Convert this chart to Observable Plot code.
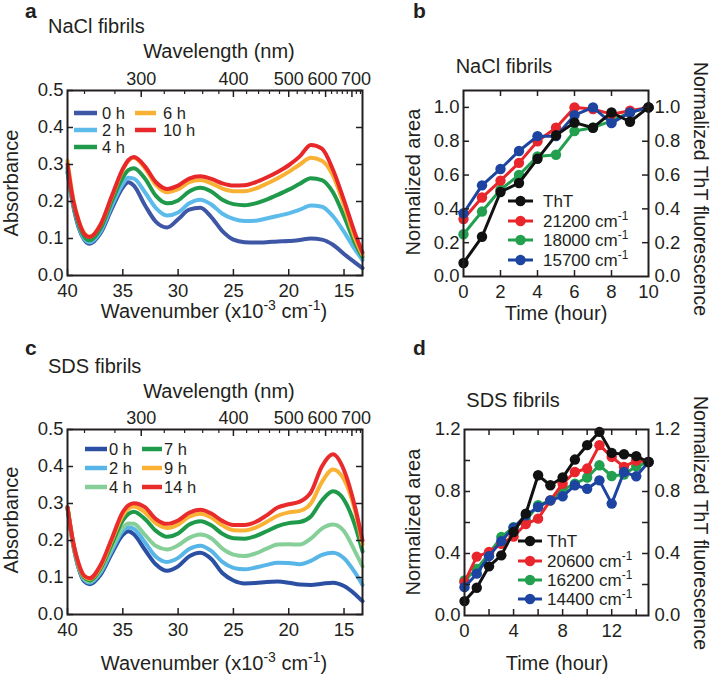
<!DOCTYPE html>
<html><head><meta charset="utf-8">
<script src="https://cdn.jsdelivr.net/npm/d3@7"></script>
<script src="https://cdn.jsdelivr.net/npm/@observablehq/plot@0.6"></script>
<style>
body{margin:0;background:#fff}
#wrap{position:relative;width:712px;height:677px;overflow:hidden;background:#fff}
#wrap svg{position:absolute;overflow:visible}
</style></head><body><div id="wrap"></div>
<script>
const FONT = '"Liberation Sans", Arial, Helvetica, sans-serif';
const INK = "#231f20";

// ---------- Panels a & c : absorbance spectra ----------
const wavenumbers = [40,39.5,39,38.5,38,37,36,35,34.5,34,33,32,31,30,29,28,27,26,25,24,23,22,21,20,19,18,17,16,15,14,13.33];

const naclLabels = ["0 h","2 h","4 h","6 h","10 h"];
const naclColors = ["#3d56a6","#5cbbea","#1f9a4a","#f8b133","#e8272a"];
const nacl_0h  = [0.28,0.19,0.13,0.097,0.086,0.115,0.18,0.238,0.252,0.243,0.19,0.145,0.13,0.152,0.178,0.183,0.158,0.12,0.097,0.09,0.089,0.09,0.092,0.093,0.096,0.1,0.097,0.083,0.058,0.035,0.02];
const nacl_2h  = [0.28,0.195,0.135,0.1,0.09,0.12,0.188,0.248,0.264,0.262,0.225,0.182,0.162,0.17,0.195,0.205,0.192,0.167,0.153,0.147,0.148,0.154,0.161,0.168,0.178,0.189,0.186,0.16,0.118,0.07,0.042];
const nacl_4h  = [0.29,0.2,0.14,0.106,0.095,0.128,0.2,0.265,0.285,0.29,0.262,0.215,0.195,0.203,0.227,0.237,0.227,0.205,0.193,0.19,0.195,0.205,0.218,0.232,0.248,0.263,0.258,0.225,0.16,0.087,0.05];
const nacl_6h  = [0.31,0.21,0.15,0.115,0.105,0.138,0.212,0.285,0.31,0.318,0.29,0.245,0.225,0.233,0.252,0.258,0.249,0.235,0.228,0.228,0.235,0.248,0.263,0.28,0.3,0.318,0.31,0.27,0.19,0.1,0.056];
const nacl_10h = [0.30,0.205,0.148,0.113,0.104,0.138,0.214,0.288,0.312,0.32,0.295,0.252,0.234,0.243,0.262,0.268,0.261,0.249,0.243,0.244,0.252,0.265,0.28,0.298,0.322,0.353,0.343,0.286,0.203,0.113,0.062];

const sdsLabels = ["0 h","2 h","4 h","7 h","9 h","14 h"];
const sdsColors = ["#2b4fa3","#57b5e7","#86cf98","#1f9a4b","#f9b233","#ea2b2b"];
const sds_0h  = [0.288,0.19,0.125,0.09,0.082,0.108,0.165,0.215,0.225,0.217,0.175,0.135,0.118,0.13,0.157,0.167,0.15,0.112,0.092,0.084,0.085,0.088,0.089,0.086,0.081,0.08,0.083,0.086,0.077,0.055,0.036];
const sds_2h  = [0.288,0.19,0.128,0.094,0.086,0.114,0.172,0.226,0.236,0.232,0.195,0.156,0.142,0.153,0.177,0.186,0.172,0.142,0.126,0.122,0.127,0.134,0.14,0.139,0.136,0.145,0.161,0.167,0.152,0.113,0.08];
const sds_4h  = [0.288,0.192,0.13,0.097,0.089,0.12,0.18,0.235,0.246,0.245,0.215,0.185,0.176,0.187,0.207,0.216,0.206,0.178,0.162,0.158,0.165,0.178,0.189,0.19,0.189,0.205,0.232,0.243,0.225,0.17,0.13];
const sds_7h  = [0.29,0.195,0.133,0.1,0.092,0.125,0.19,0.254,0.272,0.278,0.258,0.226,0.21,0.219,0.243,0.252,0.241,0.218,0.206,0.205,0.212,0.225,0.239,0.247,0.25,0.265,0.308,0.333,0.31,0.24,0.17];
const sds_9h  = [0.29,0.197,0.136,0.103,0.096,0.13,0.2,0.268,0.286,0.292,0.276,0.246,0.234,0.243,0.264,0.272,0.262,0.241,0.228,0.227,0.235,0.25,0.267,0.276,0.28,0.3,0.358,0.392,0.365,0.28,0.19];
const sds_14h = [0.29,0.198,0.138,0.105,0.098,0.134,0.205,0.277,0.295,0.301,0.29,0.258,0.245,0.254,0.275,0.283,0.273,0.253,0.242,0.242,0.25,0.268,0.289,0.298,0.305,0.33,0.4,0.433,0.39,0.29,0.2];

const wnTicks = [40,35,30,25,20,15];
const absTicks = [0,0.1,0.2,0.3,0.4,0.5];
const wlMajor = [300,400,500,600,700];
const wlMinor = [260,280,320,340,360,380,420,440,460,480,520,540,560,580,620,640,660,680,720,740];

// ---------- Panels b & d : kinetics ----------
const naclHours = [0,1,2,3,4,5,6,7,8,9,10];
const naclSeriesNames = ["ThT","21200","18000","15700"];
const naclThT   = [0.08,0.235,0.50,0.553,0.696,0.835,0.91,0.88,0.97,0.915,1.0];
const nacl21200 = [0.34,0.467,0.567,0.672,0.80,0.88,1.0,0.99,0.96,0.98,1.0];
const nacl18000 = [0.25,0.384,0.513,0.60,0.71,0.72,0.86,0.88,0.92,0.97,1.0];
const nacl15700 = [0.374,0.539,0.636,0.742,0.83,0.83,0.954,1.0,0.907,0.97,1.0];

const sdsHours = [0,1,2,3,4,5,6,7,8,9,10,11,12,13,14,15];
const sdsSeriesNames = ["ThT","20600","16200","14400"];
const sdsThT   = [0.093,0.179,0.317,0.388,0.539,0.657,0.905,0.84,0.89,1.006,1.099,1.185,1.049,1.04,1.028,0.99];
const sds20600 = [0.215,0.38,0.41,0.463,0.51,0.59,0.625,0.743,0.85,0.926,0.948,1.099,1.023,0.959,1.0,0.99];
const sds16200 = [0.226,0.30,0.40,0.506,0.57,0.614,0.711,0.743,0.81,0.85,0.89,0.969,0.90,0.91,0.963,0.99];
const sds14400 = [0.183,0.27,0.383,0.48,0.567,0.646,0.70,0.743,0.769,0.84,0.818,0.872,0.722,0.926,0.898,0.99];

const kinColors = {ThT:"#111111", r:"#e8262b", g:"#22a04f", b:"#1c44a0"};

const naclTimeTicks = [0,2,4,6,8,10];
const naclAreaTicks = [0,0.2,0.4,0.6,0.8,1.0];
const sdsTimeTicks = [0,4,8,12];
const sdsTimeTickMarks = [2,4,6,8,10,12,14];
const sdsAreaTicks = [0,0.4,0.8,1.2];
const sdsAreaTickMarks = [0.2,0.4,0.6,0.8,1.0];

const wrap = document.getElementById("wrap");
function place(svg, left, top) {
  svg.style.left = left + "px";
  svg.style.top = top + "px";
  wrap.appendChild(svg);
}
const baseStyle = {fontFamily: FONT, fontSize: "18.5px", color: INK, background: "transparent", overflow: "visible"};

function spectrum(labels, colors, values, height, mT, mB) {
  const width = 370, mL = 67, mR = 8;
  const fw = width - mL - mR, fh = height - mT - mB;
  const rows = labels.flatMap((s, i) => wavenumbers.map((w, j) => ({series: s, wn: w, a: values[i][j]})));
  const topAxis = (vals, dx) => Plot.axisX(vals.map(d => 1e4 / d), {anchor: "top", tickSize: 0, tickPadding: 6, dx,
    tickFormat: d => String(Math.round(1e4 / d)), label: null, fill: INK, fontSize: 18});
  return Plot.plot({
    width, height, marginLeft: mL, marginRight: mR, marginTop: mT, marginBottom: mB,
    style: baseStyle,
    x: {domain: [40, 13.33]},
    y: {domain: [0, 0.5]},
    color: {domain: labels, range: colors},
    marks: [
      Plot.line(rows, {x: "wn", y: "a", z: "series", stroke: "series", strokeWidth: 4, curve: "monotone-x"}),
      Plot.tickX(wnTicks, {x: d => d, insetTop: fh - 6, stroke: INK, strokeWidth: 1.5}),
      Plot.tickX(wlMajor, {x: d => 1e4 / d, insetBottom: fh - 7, stroke: INK, strokeWidth: 1.5}),
      Plot.tickX(wlMinor, {x: d => 1e4 / d, insetBottom: fh - 4, stroke: INK, strokeWidth: 1.2}),
      Plot.tickY(absTicks, {y: d => d, insetRight: fw - 6, stroke: INK, strokeWidth: 1.5}),
      Plot.tickY(absTicks, {y: d => d, insetLeft: fw - 6, stroke: INK, strokeWidth: 1.5}),
      Plot.axisX(wnTicks, {anchor: "bottom", tickSize: 0, tickPadding: 8, label: null, fill: INK}),
      topAxis(wlMajor.slice(0, 3), 0),
      topAxis([wlMajor[3]], -3),
      topAxis([wlMajor[4]], 4),
      Plot.axisY(absTicks, {anchor: "left", tickSize: 0, tickPadding: 4, tickFormat: d3.format(".1f"), label: null, fill: INK}),
      Plot.frame({stroke: INK, strokeWidth: 2})
    ]
  });
}

function kinetics(hours, series, xDomain, yDomain, xTicks, xMarks, yTicks, yMarks, width, height, mL, mR, mT, mB) {
  const fw = width - mL - mR, fh = height - mT - mB;
  const marks = [];
  for (const s of series) {
    const rows = hours.map((h, j) => ({h, v: s.values[j]}));
    marks.push(Plot.line(rows, {x: "h", y: "v", stroke: s.color, strokeWidth: 3}));
    marks.push(Plot.dot(rows, {x: "h", y: "v", fill: s.color, r: 5.2}));
  }
  return Plot.plot({
    width, height, marginLeft: mL, marginRight: mR, marginTop: mT, marginBottom: mB,
    style: baseStyle,
    x: {domain: xDomain},
    y: {domain: yDomain},
    marks: [
      ...marks,
      Plot.tickX(xMarks, {x: d => d, insetTop: fh - 6, stroke: INK, strokeWidth: 1.5}),
      Plot.tickX(xMarks, {x: d => d, insetBottom: fh - 6, stroke: INK, strokeWidth: 1.5}),
      Plot.tickY(yMarks, {y: d => d, insetRight: fw - 6, stroke: INK, strokeWidth: 1.5}),
      Plot.tickY(yMarks, {y: d => d, insetLeft: fw - 6, stroke: INK, strokeWidth: 1.5}),
      Plot.axisX(xTicks, {anchor: "bottom", tickSize: 0, tickPadding: 8, label: null, fill: INK}),
      Plot.axisY(yTicks, {anchor: "left", tickSize: 0, tickPadding: 4, tickFormat: d3.format(".1f"), label: null, fill: INK}),
      Plot.axisY(yTicks, {anchor: "right", tickSize: 0, tickPadding: 6, tickFormat: d3.format(".1f"), label: null, fill: INK}),
      Plot.frame({stroke: INK, strokeWidth: 2})
    ]
  });
}

place(spectrum(naclLabels, naclColors, [nacl_0h, nacl_2h, nacl_4h, nacl_6h, nacl_10h], 330, 90, 55), 0, 0);
place(spectrum(sdsLabels, sdsColors, [sds_0h, sds_2h, sds_4h, sds_7h, sds_9h, sds_14h], 347, 99, 63), 0, 330);

place(kinetics(naclHours, [
  {color: kinColors.g, values: nacl18000},
  {color: kinColors.r, values: nacl21200},
  {color: kinColors.b, values: nacl15700},
  {color: kinColors.ThT, values: naclThT}
], [0, 10], [0, 1.1], naclTimeTicks, [2,4,6,8], naclAreaTicks, [0.2,0.4,0.6,0.8,1.0], 342, 330, 93, 64, 90, 54), 370, 0);

place(kinetics(sdsHours, [
  {color: kinColors.g, values: sds16200},
  {color: kinColors.r, values: sds20600},
  {color: kinColors.b, values: sds14400},
  {color: kinColors.ThT, values: sdsThT}
], [0, 15], [0, 1.2], sdsTimeTicks, sdsTimeTickMarks, sdsAreaTicks, sdsAreaTickMarks, 342, 347, 94, 64, 99, 62), 370, 330);

// ---------- Overlay annotations ----------
const ov = d3.create("svg").attr("width", 712).attr("height", 677)
  .style("left", "0px").style("top", "0px").style("pointer-events", "none")
  .attr("font-family", FONT).attr("fill", INK);

function txt(x, y, s, opts = {}) {
  const t = ov.append("text").attr("x", x).attr("y", y).attr("font-size", opts.size || 20)
    .attr("text-anchor", opts.anchor || "start");
  if (opts.bold) t.attr("font-weight", "bold");
  if (opts.rotate) t.attr("transform", `rotate(${opts.rotate},${x},${y})`);
  if (opts.dy) t.attr("dy", opts.dy);
  const parts = Array.isArray(s) ? s : [s];
  for (const p of parts) {
    if (typeof p === "string") t.append("tspan").text(p);
    else t.append("tspan").attr("font-size", "0.7em").attr("baseline-shift", "55%").text(p.sup);
  }
  return t;
}
const wnTitle = ["Wavenumber (x10", {sup: "-3"}, " cm", {sup: "-1"}, ")"];

// panel a
txt(25, 18, "a", {bold: true, size: 21});
txt(48, 33, "NaCl fibrils");
txt(219, 58, "Wavelength (nm)", {anchor: "middle"});
txt(18, 183, "Absorbance", {anchor: "middle", rotate: -90});
txt(214, 318, wnTitle, {anchor: "middle"});
// panel c
txt(25, 355, "c", {bold: true, size: 21});
txt(48, 373, "SDS fibrils");
txt(219, 398, "Wavelength (nm)", {anchor: "middle"});
txt(18, 520, "Absorbance", {anchor: "middle", rotate: -90});
txt(214, 670, wnTitle, {anchor: "middle"});
// panel b
txt(413, 18, "b", {bold: true, size: 21});
txt(504, 73, "NaCl fibrils", {anchor: "middle"});
txt(420, 182, "Normalized area", {anchor: "middle", rotate: -90});
txt(694, 189, "Normalized ThT fluorescence", {anchor: "middle", rotate: 90, size: 19.5});
txt(556, 320, "Time (hour)", {anchor: "middle"});
// panel d
txt(413, 355, "d", {bold: true, size: 21});
txt(513, 407, "SDS fibrils", {anchor: "middle"});
txt(420, 522, "Normalized area", {anchor: "middle", rotate: -90});
txt(694, 523, "Normalized ThT fluorescence", {anchor: "middle", rotate: 90, size: 19.5});
txt(557, 670, "Time (hour)", {anchor: "middle"});

// spectral legends
function specLegend(labels, colors, rowY, lineX, textX) {
  labels.forEach((l, i) => {
    const c = Math.floor(i / 3), r = i % 3;
    ov.append("line").attr("x1", lineX[c][0]).attr("x2", lineX[c][1])
      .attr("y1", rowY[r]).attr("y2", rowY[r]).attr("stroke", colors[i]).attr("stroke-width", 4.5);
    txt(textX[c], rowY[r], l, {size: 16.5, dy: "0.35em"});
  });
}
specLegend(naclLabels, naclColors, [113, 130, 147], [[74, 97], [135, 156]], [102, 163]);
specLegend(sdsLabels, sdsColors, [449, 468, 487], [[85, 107], [142, 162]], [109, 164]);

// kinetics legends
function kinLegend(names, colors, rowY, x1, x2, tx) {
  names.forEach((n, i) => {
    ov.append("line").attr("x1", x1).attr("x2", x2).attr("y1", rowY[i]).attr("y2", rowY[i])
      .attr("stroke", colors[i]).attr("stroke-width", 3);
    ov.append("circle").attr("cx", (x1 + x2) / 2).attr("cy", rowY[i]).attr("r", 5.2).attr("fill", colors[i]);
    txt(tx, rowY[i], n === "ThT" ? "ThT" : [n + " cm", {sup: "-1"}], {size: 17, dy: "0.35em"});
  });
}
const kinOrder = [kinColors.ThT, kinColors.r, kinColors.g, kinColors.b];
kinLegend(naclSeriesNames, kinOrder, [201, 221, 240, 260], 508, 533, 543);
kinLegend(sdsSeriesNames, kinOrder, [541, 561, 580, 599], 518, 542, 547);

wrap.appendChild(ov.node());
</script></body></html>
